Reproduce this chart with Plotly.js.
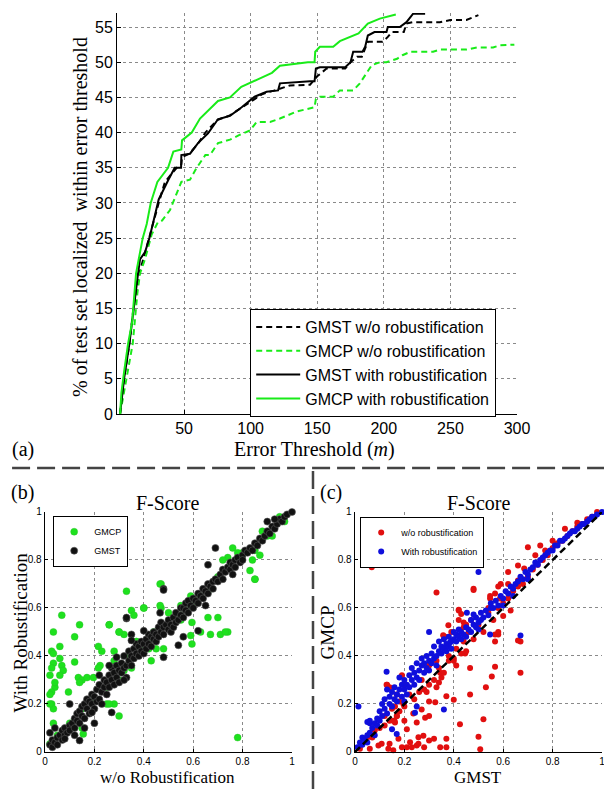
<!DOCTYPE html>
<html>
<head>
<meta charset="utf-8">
<script src="https://cdn.plot.ly/plotly-3.0.1.min.js"></script>
<style>html,body{margin:0;padding:0;background:#fff;}#chart{width:604px;height:789px;}</style>
</head>
<body>
<div id="chart"></div>
<script>
// ---------- Panel (a): CDF of localization error ----------
const gmstWoX = [2,5,9,12,16.5,20,24,28,31,35.7,40,44.5,48,48.5,54,60,66,75,84,97,109,118,129.5,144.6,150,157,171,175,180,183.5,186,188,199,203,206,215,217,222,242,250,262,271];
const gmstWoY = [0,5,10,15,20,22.5,25,28,30,33,34,35,35.5,36.5,37,38.3,40,41.8,42.4,44,45.5,46,46.7,46.8,48,49.1,49.1,50,50.8,50.8,52,52.9,52.9,53.6,54.3,54.3,55.5,55.7,55.7,56,56,56.7];

const gmcpWoX = [2,6.5,11.5,15,17,20.7,25.7,30.5,33.5,39.5,44.5,48,54.5,59.5,66,69.5,75.5,84.5,92,99.5,104.5,114.6,122,134.6,148,149,152,162,167,177,182,186,191,197,202,210,214,220,237,242,262,270,282,287,298];
const gmcpWoY = [0,5,10,17.2,20,22,25.5,27.3,27.5,29,31.5,33,33.3,35,36.8,36.8,38.5,39,39.7,40.3,41.5,41.5,42,43,43.6,44.8,45.1,45.1,46,46,47,48.2,49.6,50,50,50.5,51,51.5,51.5,51.8,51.8,52.1,52.1,52.4,52.5];

const gmstWithX = [2,5,9,12,15.5,17,20.7,24,28,31,38,43,47.8,48,54.5,60.5,68,71.8,75.5,84.5,93.3,103,112,120.6,122,144.6,148,149,152,171,175,177,184,186,188,193,202,203,212,217,221,222,231];
const gmstWithY = [0,5,10,15,20,22,23,25,28,30.5,33.2,35,35,36.8,37,38.5,39.9,41,41.9,42.4,43.6,45.1,45.8,46,47,47.3,47.3,49.1,49.3,49.3,50,51.5,51.5,52.2,53.8,54.3,54.3,55,55,55.7,56.7,56.9,56.9];

const gmcpWithX = [2,3,5,8,11,13,14,16,19,22,25,30,38,42,48,48.5,55.8,62,75.5,84.5,93,104.6,116,122,134.6,143,148,148.5,152,162,167,181,188,197,209];
const gmcpWithY = [0,3,6,10,13,17,20,22,25,27,30,33,35,37.3,37.6,38.9,40,42,44.5,45,46.5,47.5,48.5,49.5,49.8,50,50,51.5,52.2,52.2,53,54.1,55.5,56.2,56.8];

const lineNames = ['GMST w/o robustification','GMCP w/o robustification','GMST with robustification','GMCP with robustification'];
const xTicksA = [50,100,150,200,250,300];
const yTicksA = [0,5,10,15,20,25,30,35,40,45,50,55];
const ticks01 = [0,0.2,0.4,0.6,0.8,1];
const ticks01Text = ['0','0.2','0.4','0.6','0.8','1'];

// ---------- Panel (b): F-Score, w/o vs with robustification ----------
const bGmcpPts = [
[0.034,0.5],[0.068,0.57],[0.027,0.42],[0.034,0.41],[0.06,0.39],[0.034,0.37],[0.027,0.35],[0.04,0.27],[0.02,0.32],[0.04,0.29],
[0.027,0.25],[0.02,0.24],[0.027,0.2],[0.034,0.18],[0.02,0.2],[0.034,0.12],[0.02,0.034],[0.068,0.36],[0.074,0.34],[0.06,0.32],
[0.06,0.44],[0.12,0.48],[0.14,0.53],[0.12,0.375],[0.135,0.31],[0.15,0.3],[0.14,0.29],[0.17,0.31],[0.196,0.31],[0.216,0.44],
[0.23,0.42],[0.26,0.53],[0.223,0.36],[0.216,0.35],[0.25,0.2],[0.28,0.2],[0.3,0.15],[0.28,0.38],[0.28,0.42],[0.3,0.5],
[0.32,0.49],[0.33,0.67],[0.35,0.59],[0.36,0.57],[0.37,0.46],[0.34,0.4],[0.4,0.6],[0.385,0.44],[0.42,0.43],[0.43,0.38],
[0.47,0.7],[0.47,0.6],[0.5,0.58],[0.48,0.43],[0.55,0.61],[0.595,0.54],[0.595,0.45],[0.63,0.65],[0.7,0.56],[0.71,0.49],
[0.74,0.5],[0.78,0.06],[0.85,0.72],[0.15,0.1],[0.155,0.075],[0.26,0.2],[0.095,0.25],[0.466,0.7],[0.4,0.6],[0.466,0.61],
[0.26,0.53],[0.3,0.5],[0.67,0.49],[0.73,0.5],[0.66,0.56],[0.76,0.85],[0.74,0.81],[0.83,0.756],[0.85,0.72],[0.59,0.65],
[0.55,0.57],[0.59,0.485],[0.63,0.5],[0.44,0.5],[0.37,0.46],[0.42,0.46],
[0.1,0.12],[0.2,0.22],[0.3,0.3],[0.4,0.43],[0.5,0.52],[0.6,0.62],[0.7,0.73],[0.8,0.83],[0.85,0.84],[0.9,0.9],
[0.95,0.98],[0.78,0.83],[0.72,0.8],[0.62,0.65],[0.55,0.55],[0.45,0.43],[0.35,0.35],[0.25,0.27],[0.15,0.18],[0.05,0.07],
[0.88,0.92],[0.67,0.68],[0.58,0.6],[0.42,0.46],[0.32,0.34],[0.87,0.82],[0.84,0.8],[0.92,0.9],[0.97,0.96]];

const bGmstPts = [
[0.02,0.03],[0.03,0.02],[0.03,0.05],[0.04,0.04],[0.05,0.06],[0.05,0.03],[0.06,0.07],[0.07,0.05],[0.07,0.09],[0.08,0.07],
[0.08,0.1],[0.09,0.08],[0.1,0.11],[0.1,0.09],[0.11,0.12],[0.12,0.1],[0.12,0.14],[0.13,0.13],[0.13,0.16],[0.14,0.12],
[0.14,0.17],[0.15,0.15],[0.15,0.19],[0.16,0.14],[0.16,0.2],[0.17,0.18],[0.17,0.22],[0.18,0.16],[0.18,0.21],[0.19,0.2],
[0.19,0.24],[0.2,0.18],[0.2,0.23],[0.21,0.21],[0.21,0.26],[0.22,0.22],[0.22,0.28],[0.23,0.25],[0.23,0.2],[0.24,0.27],
[0.24,0.3],[0.25,0.24],[0.25,0.29],[0.26,0.32],[0.26,0.27],[0.27,0.3],[0.27,0.35],[0.28,0.28],[0.28,0.33],[0.29,0.31],
[0.29,0.36],[0.3,0.34],[0.3,0.29],[0.31,0.37],[0.31,0.33],[0.32,0.35],[0.32,0.4],[0.33,0.36],[0.33,0.31],[0.34,0.38],
[0.34,0.42],[0.35,0.36],[0.35,0.4],[0.36,0.43],[0.36,0.39],[0.37,0.41],[0.37,0.45],[0.38,0.4],[0.38,0.44],[0.39,0.42],
[0.39,0.46],[0.4,0.41],[0.4,0.45],[0.41,0.47],[0.41,0.43],[0.42,0.45],[0.42,0.49],[0.43,0.44],[0.43,0.48],[0.44,0.47],
[0.44,0.5],[0.45,0.46],[0.45,0.49],[0.46,0.52],[0.46,0.48],[0.47,0.5],[0.47,0.54],[0.48,0.49],[0.48,0.52],[0.49,0.53],
[0.5,0.51],[0.5,0.55],[0.51,0.53],[0.51,0.5],[0.52,0.56],[0.52,0.52],[0.53,0.54],[0.53,0.58],[0.54,0.55],[0.55,0.57],
[0.55,0.6],[0.56,0.56],[0.56,0.6],[0.57,0.59],[0.57,0.62],[0.58,0.58],[0.58,0.63],[0.59,0.61],[0.6,0.6],[0.6,0.64],
[0.61,0.63],[0.62,0.62],[0.62,0.66],[0.63,0.65],[0.64,0.64],[0.64,0.68],[0.65,0.67],[0.66,0.7],[0.66,0.66],[0.67,0.69],
[0.68,0.71],[0.68,0.68],[0.69,0.72],[0.7,0.71],[0.71,0.74],[0.72,0.72],[0.72,0.76],[0.73,0.75],[0.74,0.77],[0.75,0.76],
[0.75,0.79],[0.76,0.78],[0.77,0.8],[0.77,0.77],[0.78,0.81],[0.79,0.79],[0.8,0.82],[0.8,0.8],[0.81,0.84],[0.82,0.83],
[0.83,0.85],[0.84,0.84],[0.85,0.87],[0.86,0.86],[0.87,0.89],[0.88,0.88],[0.89,0.9],[0.9,0.92],[0.91,0.91],[0.92,0.94],
[0.93,0.93],[0.94,0.95],[0.95,0.97],[0.96,0.96],[0.97,0.98],[0.98,0.99],[1.0,1.0],[0.9,0.96],[0.93,0.97],
[0.69,0.85],[0.66,0.78],[0.48,0.68],[0.33,0.556],[0.466,0.58],[0.76,0.74],[0.65,0.61],[0.35,0.49],[0.48,0.675],[0.33,0.56],
[0.4,0.505],[0.54,0.445],[0.62,0.505],[0.56,0.48],[0.48,0.395],[0.35,0.465],[0.29,0.395],[0.27,0.165],[0.14,0.048],[0.19,0.165],
[0.2,0.12],[0.04,0.1],[0.02,0.08],[0.08,0.055],[0.1,0.2],[0.32,0.3],[0.16,0.1],[0.12,0.07],[0.22,0.32],[0.26,0.36]];

// ---------- Panel (c): F-Score, GMST vs GMCP ----------
const cWoPts = [
[0.02,0.014],[0.06,0.014],[0.095,0.027],[0.108,0.034],[0.135,0.014],[0.14,0.034],[0.155,0.007],[0.176,0.055],[0.19,0.02],[0.21,0.02],
[0.223,0.041],[0.23,0.02],[0.25,0.027],[0.257,0.034],[0.277,0.068],[0.28,0.02],[0.3,0.048],[0.32,0.055],[0.345,0.02],[0.37,0.055],
[0.37,0.02],[0.257,0.061],[0.5,0.064],[0.507,0.011],[0.52,0.136],[0.425,0.116],[0.25,0.123],[0.21,0.095],[0.2,0.13],[0.162,0.123],
[0.14,0.13],[0.169,0.15],[0.284,0.143],[0.3,0.15],[0.4,0.218],[0.37,0.232],[0.3,0.21],[0.325,0.207],[0.29,0.25],[0.33,0.27],
[0.34,0.29],[0.35,0.31],[0.196,0.28],[0.19,0.32],[0.128,0.28],[0.14,0.27],[0.169,0.24],[0.162,0.19],[0.196,0.2],[0.466,0.24],
[0.466,0.35],[0.53,0.27],[0.567,0.355],[0.554,0.315],[0.67,0.33],[0.67,0.46],[0.567,0.46],[0.58,0.49],[0.63,0.59],[0.33,0.665],
[0.48,0.675],[0.42,0.59],[0.44,0.54],[0.547,0.65],[0.567,0.66],[0.59,0.7],[0.66,0.715],[0.365,0.48],[0.4,0.39],[0.41,0.36],
[0.38,0.38],[0.446,0.41],[0.345,0.33],[0.27,0.177],[0.236,0.16],[0.155,0.13],[0.068,0.77],[0.9,0.955],[0.75,0.86],[0.77,0.84],
[0.7,0.853],[0.73,0.82],[0.66,0.777],[0.685,0.765],[0.62,0.75],[0.48,0.68],[0.547,0.64],[0.587,0.64],[0.6,0.567],[0.567,0.49],
[0.58,0.5],[0.42,0.593],[0.43,0.575],[0.45,0.53],[0.378,0.528],[0.357,0.486],[0.66,0.465],
[0.05,0.06],[0.08,0.09],[0.1,0.1],[0.12,0.11],[0.13,0.28],[0.15,0.18],[0.17,0.15],[0.18,0.17],[0.2,0.19],[0.22,0.24],
[0.24,0.22],[0.26,0.25],[0.28,0.26],[0.3,0.28],[0.32,0.3],[0.34,0.35],[0.36,0.33],[0.38,0.4],[0.4,0.38],[0.41,0.43],
[0.43,0.41],[0.44,0.46],[0.45,0.42],[0.46,0.5],[0.48,0.47],[0.5,0.53],[0.52,0.5],[0.54,0.58],[0.56,0.55],[0.58,0.6],
[0.6,0.62],[0.62,0.64],[0.64,0.67],[0.66,0.69],[0.68,0.7],[0.7,0.73],[0.72,0.76],[0.74,0.78],[0.76,0.8],[0.78,0.82],
[0.8,0.85],[0.82,0.87],[0.84,0.88],[0.86,0.9],[0.88,0.92],[0.9,0.94],[0.92,0.95],[0.94,0.97],[0.96,0.98],[0.98,1.0],
[0.85,0.93],[0.8,0.88],[0.62,0.7],[0.58,0.69],[0.54,0.6],[0.47,0.55],[0.44,0.52],[0.42,0.55],[0.39,0.5],[0.37,0.44],
[0.33,0.38],[0.3,0.36],[0.27,0.3],[0.18,0.21],[0.16,0.13],[0.12,0.15],[0.07,0.06]];

const cWithPts = [
[0.01,0.02],[0.02,0.04],[0.03,0.03],[0.03,0.06],[0.04,0.05],[0.05,0.07],[0.05,0.04],[0.06,0.12],[0.06,0.08],[0.07,0.1],
[0.08,0.12],[0.08,0.07],[0.09,0.14],[0.09,0.11],[0.1,0.17],[0.1,0.13],[0.11,0.2],[0.11,0.15],[0.12,0.18],[0.12,0.22],
[0.13,0.16],[0.13,0.26],[0.14,0.2],[0.14,0.23],[0.15,0.25],[0.15,0.19],[0.16,0.22],[0.16,0.27],[0.17,0.24],[0.17,0.21],
[0.18,0.26],[0.18,0.31],[0.19,0.23],[0.19,0.28],[0.2,0.26],[0.2,0.3],[0.21,0.24],[0.21,0.28],[0.22,0.32],[0.22,0.27],
[0.23,0.3],[0.23,0.35],[0.24,0.28],[0.24,0.33],[0.25,0.31],[0.25,0.37],[0.26,0.34],[0.26,0.3],[0.27,0.36],[0.27,0.39],
[0.28,0.33],[0.28,0.37],[0.29,0.35],[0.29,0.4],[0.3,0.38],[0.3,0.34],[0.31,0.41],[0.31,0.37],[0.32,0.39],[0.32,0.44],
[0.33,0.4],[0.33,0.36],[0.34,0.42],[0.34,0.46],[0.35,0.41],[0.35,0.44],[0.36,0.43],[0.36,0.47],[0.37,0.42],[0.37,0.45],
[0.38,0.44],[0.38,0.48],[0.39,0.46],[0.39,0.43],[0.4,0.47],[0.4,0.5],[0.41,0.46],[0.41,0.49],[0.42,0.48],[0.42,0.51],
[0.43,0.47],[0.43,0.5],[0.44,0.49],[0.45,0.52],[0.45,0.48],[0.46,0.51],[0.47,0.55],[0.47,0.5],[0.48,0.53],[0.49,0.56],
[0.49,0.52],[0.5,0.54],[0.51,0.58],[0.51,0.55],[0.52,0.56],[0.53,0.59],[0.54,0.57],[0.55,0.6],[0.55,0.62],[0.56,0.6],
[0.57,0.63],[0.58,0.61],[0.59,0.65],[0.6,0.64],[0.61,0.67],[0.62,0.66],[0.63,0.69],[0.64,0.68],[0.65,0.7],[0.66,0.71],
[0.67,0.73],[0.68,0.72],[0.69,0.75],[0.7,0.74],[0.71,0.76],[0.72,0.77],[0.73,0.79],[0.74,0.78],[0.75,0.8],[0.76,0.81],
[0.77,0.82],[0.78,0.83],[0.79,0.84],[0.8,0.84],[0.81,0.86],[0.82,0.86],[0.83,0.88],[0.84,0.88],[0.85,0.89],[0.86,0.9],
[0.87,0.91],[0.88,0.92],[0.89,0.92],[0.9,0.93],[0.91,0.94],[0.92,0.95],[0.93,0.95],[0.94,0.96],[0.95,0.97],[0.96,0.98],
[0.97,0.98],[0.98,0.99],[1.0,1.0],[0.6,0.61],[0.64,0.65],[0.7,0.72],[0.5,0.51],
[0.014,0.19],[0.128,0.334],[0.15,0.095],[0.169,0.075],[0.243,0.164],[0.3,0.5],[0.36,0.177],[0.67,0.485],[0.547,0.49],[0.385,0.457],
[0.453,0.58],[0.48,0.573],[0.5,0.75],[0.05,0.125],[0.06,0.13],[0.2,0.21],[0.25,0.19]];

const diagX = [0,1];
const diagY = [0,1];

// ---------- Styles ----------
const GREEN = 'rgb(25,235,25)';
const SANS = 'Liberation Sans, Arial, sans-serif';
const SERIF = 'Liberation Serif, Times New Roman, serif';
const px = (p, i) => p.map(d => d[i]);

const traces = [
  {x: gmstWoX, y: gmstWoY, name: lineNames[0], mode: 'lines', line: {color: 'black', width: 2, dash: '6px,4px'}, xaxis: 'x', yaxis: 'y', legend: 'legend'},
  {x: gmcpWoX, y: gmcpWoY, name: lineNames[1], mode: 'lines', line: {color: GREEN, width: 2, dash: '6px,4px'}, xaxis: 'x', yaxis: 'y', legend: 'legend'},
  {x: gmstWithX, y: gmstWithY, name: lineNames[2], mode: 'lines', line: {color: 'black', width: 2}, xaxis: 'x', yaxis: 'y', legend: 'legend'},
  {x: gmcpWithX, y: gmcpWithY, name: lineNames[3], mode: 'lines', line: {color: GREEN, width: 2}, xaxis: 'x', yaxis: 'y', legend: 'legend'},
  {x: px(bGmcpPts,0), y: px(bGmcpPts,1), name: 'GMCP', mode: 'markers', cliponaxis: false,
   marker: {color: 'rgb(30,225,30)', size: 7, line: {color: 'rgb(40,190,40)', width: 0.4}}, xaxis: 'x2', yaxis: 'y2', legend: 'legend2'},
  {x: px(bGmstPts,0), y: px(bGmstPts,1), name: 'GMST', mode: 'markers', cliponaxis: false,
   marker: {color: '#111', size: 7, line: {color: '#555', width: 0.6}}, xaxis: 'x2', yaxis: 'y2', legend: 'legend2'},
  {x: px(cWoPts,0), y: px(cWoPts,1), name: 'w/o robustification', mode: 'markers', cliponaxis: false,
   marker: {color: 'rgb(225,15,15)', size: 6}, xaxis: 'x3', yaxis: 'y3', legend: 'legend3'},
  {x: px(cWithPts,0), y: px(cWithPts,1), name: 'With robustification', mode: 'markers', cliponaxis: false,
   marker: {color: 'rgb(15,15,220)', size: 6}, xaxis: 'x3', yaxis: 'y3', legend: 'legend3'},
  {x: diagX, y: diagY, mode: 'lines', showlegend: false, line: {color: 'black', width: 2.5, dash: '7px,4px'}, xaxis: 'x3', yaxis: 'y3'}
];

const gridAxis = {
  showgrid: true, gridcolor: '#8a8a8a', griddash: 'dot', gridwidth: 1,
  showline: true, linecolor: 'black', linewidth: 1.3, zeroline: false,
  ticks: 'inside', ticklen: 3, tickcolor: 'black', automargin: false, fixedrange: true,
  ticklabeloverflow: 'allow'
};

function ann(text, x, y, size, angle, yanchor) {
  return {text: text, xref: 'paper', yref: 'paper', x: x, y: y, xanchor: 'center', yanchor: yanchor || 'middle',
          textangle: angle || 0, showarrow: false, borderpad: 0, font: {family: SERIF, size: size, color: 'black'}};
}

const layout = {
  width: 604, height: 789,
  margin: {l: 0, r: 0, t: 0, b: 0},
  paper_bgcolor: 'white', plot_bgcolor: 'white',
  font: {family: SANS, color: 'black'},
  xaxis: Object.assign({}, gridAxis, {domain: [0.1944, 0.856], range: [0, 300], tickvals: xTicksA, tickfont: {size: 16, family: SANS}, anchor: 'y', ticklen: 4}),
  yaxis: Object.assign({}, gridAxis, {domain: [0.4753, 0.9835], range: [0, 57], tickvals: yTicksA, tickfont: {size: 16, family: SANS}, anchor: 'x', ticklen: 4}),
  xaxis2: Object.assign({}, gridAxis, {domain: [0.0745, 0.4834], range: [0, 1], tickvals: ticks01, ticktext: ticks01Text, tickfont: {size: 10, family: SANS}, anchor: 'y2'}),
  yaxis2: Object.assign({}, gridAxis, {domain: [0.0469, 0.3511], range: [0, 1], tickvals: ticks01, ticktext: ticks01Text, tickfont: {size: 10, family: SANS}, anchor: 'x2'}),
  xaxis3: Object.assign({}, gridAxis, {domain: [0.5877, 0.9967], range: [0, 1], tickvals: ticks01, ticktext: ticks01Text, tickfont: {size: 10, family: SANS}, anchor: 'y3'}),
  yaxis3: Object.assign({}, gridAxis, {domain: [0.0469, 0.3511], range: [0, 1], tickvals: ticks01, ticktext: ticks01Text, tickfont: {size: 10, family: SANS}, anchor: 'x3'}),
  legend: {x: 0.4139, y: 0.6085, xanchor: 'left', yanchor: 'top', bgcolor: 'white', bordercolor: 'black', borderwidth: 1.2,
           font: {size: 16, family: SANS}, itemwidth: 44, tracegroupgap: 0},
  legend2: {x: 0.0877, y: 0.346, xanchor: 'left', yanchor: 'top', bgcolor: 'white', bordercolor: 'black', borderwidth: 1.2,
           font: {size: 9, family: SANS}},
  legend3: {x: 0.596, y: 0.345, xanchor: 'left', yanchor: 'top', bgcolor: 'white', bordercolor: 'black', borderwidth: 1.2,
           font: {size: 9, family: SANS}},
  shapes: [
    {type: 'line', xref: 'paper', yref: 'paper', x0: 0.02, x1: 1, y0: 0.4068, y1: 0.4068, line: {color: '#444', width: 2.5, dash: '18px,7px'}},
    {type: 'line', xref: 'paper', yref: 'paper', x0: 0.5182, x1: 0.5182, y0: 0, y1: 0.4068, line: {color: '#444', width: 2.5, dash: '18px,7px'}}
  ],
  annotations: [
    ann('Error Threshold (<i>m</i>)', 0.5215, 0.4297, 20),
    ann('% of test set localized  within error threshold', 0.1325, 0.725, 20, -90),
    ann('(a)', 0.038, 0.4297, 20),
    ann('(b)', 0.038, 0.3752, 20),
    ann('(c)', 0.548, 0.3752, 20),
    ann('F-Score', 0.2773, 0.3625, 20),
    ann('F-Score', 0.7922, 0.3625, 20),
    ann('w/o Robustification', 0.278, 0.001, 17, 0, 'bottom'),
    ann('With Robustification', 0.0331, 0.1985, 19, -90),
    ann('GMST', 0.7914, 0.001, 17, 0, 'bottom'),
    ann('GMCP', 0.5414, 0.1985, 19, -90)
  ]
};

Plotly.newPlot('chart', traces, layout, {staticPlot: true, displayModeBar: false});
</script>
</body>
</html>
